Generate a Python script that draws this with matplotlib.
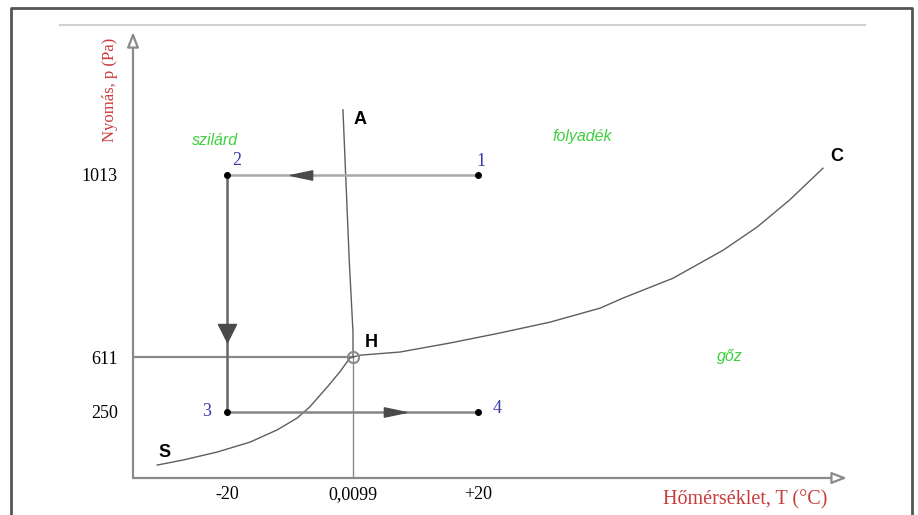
import numpy as np
import matplotlib
matplotlib.use('Agg')
import matplotlib.pyplot as plt
from matplotlib.lines import Line2D

# --- data (schematic phase diagram of water) ---
T_ticks = [-20, 0.0099, 20]
T_tick_labels = ['-20', '0,0099', '+20']
p_ticks = [250, 611, 1013]
p_tick_labels = ['250', '611', '1013']

# sublimation curve S -> H
subl_T = [-31.2, -27.1, -21.7, -16.4, -12.1, -8.9, -6.9, -4.1, -2.1, -0.5, 0.0099]
subl_p = [49, 68, 98, 136, 182, 227, 283, 414, 513, 604, 611]
# vaporisation curve H -> C
vap_T = [0.0099, 1.1, 7.5, 15.5, 23.4, 31.4, 39.4, 43.0, 51.0, 59.0, 64.4, 69.6, 74.9]
vap_p = [611, 615, 622, 642, 664, 688, 719, 741, 785, 847, 898, 958, 1028]
# melting line H -> A
melt_T = [0.0099, 0.0, -0.6, -1.6]
melt_p = [611, 666, 825, 1157]

# process path 1 -> 2 -> 3 -> 4
path_T = [20, -20, -20, 20]
path_p = [1013, 1013, 250, 250]
path_names = ['1', '2', '3', '4']

triple_T, triple_p = 0.0099, 611

# the pressure axis is not to scale in the original drawing
p_knots = [0, 250, 611, 1013, 1329]
p_screen = [0, 66, 121, 303, 446]


def fwd(p):
    return np.interp(p, p_knots, p_screen)


def inv(s):
    return np.interp(s, p_screen, p_knots)


W, H = 918, 515
fig = plt.figure(figsize=(W / 100, H / 100), dpi=100)
ax = fig.add_axes([133 / W, 37 / H, 714 / W, 446 / H])
ax.set_yscale('function', functions=(fwd, inv))
ax.set_xlim(-35.06, 78.73)
ax.set_ylim(0, 1329)
for s in ax.spines.values():
    s.set_visible(False)

serif = 'Liberation Serif'
axcol = '#8a8a8a'
curve = '#5e5e5e'

# axes with open arrow heads
arr = dict(arrowstyle='-|>,head_length=0.9,head_width=0.35', fc='white', ec=axcol, lw=1.6,
           shrinkA=0, shrinkB=0)
ax.annotate('', xy=(0, 1.0), xytext=(0, 0), xycoords='axes fraction', arrowprops=arr)
ax.annotate('', xy=(1.0, 0), xytext=(0, 0), xycoords='axes fraction', arrowprops=arr)

ax.set_xticks(T_ticks, T_tick_labels, fontfamily=serif, fontsize=13)
ax.set_yticks(p_ticks, p_tick_labels, fontfamily=serif, fontsize=13)
ax.tick_params(axis='both', length=0)
ax.tick_params(axis='y', pad=11)
ax.tick_params(axis='x', pad=6)
ax.minorticks_off()

ax.set_ylabel('Nyomás, p (Pa)', color='#c83c3c', fontfamily=serif, fontsize=12)
ax.yaxis.set_label_coords(-0.021, 0.87)
ax.set_xlabel('Hőmérséklet, T (°C)', color='#c83c3c', fontfamily=serif, fontsize=14.5)
ax.xaxis.set_label_coords(0.857, -0.028)

# guide lines through the triple point
ax.plot([-35.06, triple_T], [triple_p, triple_p], color=axcol, lw=1.6)
ax.plot([triple_T, triple_T], [0, triple_p], color=axcol, lw=1.0)

# phase boundaries
ax.plot(subl_T, subl_p, color=curve, lw=1.0)
ax.plot(vap_T, vap_p, color=curve, lw=1.0)
ax.plot(melt_T, melt_p, color=curve, lw=1.0)
ax.plot([triple_T], [triple_p], marker='o', ms=8, mfc='none', mec=axcol, mew=1.5)

# process path
ax.plot(path_T[0:2], path_p[0:2], color='#a8a8a8', lw=1.8)
ax.plot(path_T[1:3], path_p[1:3], color='#666666', lw=1.8)
ax.plot(path_T[2:4], path_p[2:4], color='#858585', lw=1.8)
ax.plot(path_T, path_p, 'o', color='black', ms=4, ls='none')

tri_left = [(-1, 0), (1, 0.42), (1, -0.42), (-1, 0)]
tri_right = [(-x, y) for x, y in tri_left]
tri_down = [(-1, 1), (1, 1), (0, -1), (-1, 1)]
ax.plot([-8.3], [1013], marker=tri_left, ms=16, color='#4a4a4a', ls='none')
ax.plot([-20], [663], marker=tri_down, ms=13, color='#4a4a4a', ls='none')
ax.plot([6.7], [250], marker=tri_right, ms=16, color='#4a4a4a', ls='none')

num = dict(color='#3838a8', fontfamily=serif, fontsize=13, ha='center', va='center')
ax.text(20.4, 1042, path_names[0], **num)
ax.text(-18.5, 1044, path_names[1], **num)
ax.text(-23.3, 250, path_names[2], **num)
ax.text(22.9, 270, path_names[3], **num)

bold = dict(color='black', fontfamily='Liberation Sans', fontweight='bold', fontsize=13,
            ha='center', va='center')
ax.text(1.1, 1135, 'A', **bold)
ax.text(2.9, 644, 'H', **bold)
ax.text(77.1, 1053, 'C', **bold)
ax.text(-30.1, 98, 'S', **bold)

green = dict(color='#3fcf3f', fontfamily='Liberation Sans', fontstyle='italic', fontsize=11.5,
             ha='center', va='center')
ax.text(-22.0, 1090, 'szilárd', **green)
ax.text(36.5, 1097, 'folyadék', **green)
ax.text(60.1, 611, 'gőz', **green)

# frame of the original picture
def fig_line(xs, ys, **kw):
    fig.add_artist(Line2D([x / W for x in xs], [1 - y / H for y in ys],
                          transform=fig.transFigure, **kw))

fig_line([11, 11, 912, 912], [515, 8, 8, 515], color='#555555', lw=2)
fig_line([60, 865], [25, 25], color='#d0d0d0', lw=1.5)

fig.savefig('out.png', dpi=100)
